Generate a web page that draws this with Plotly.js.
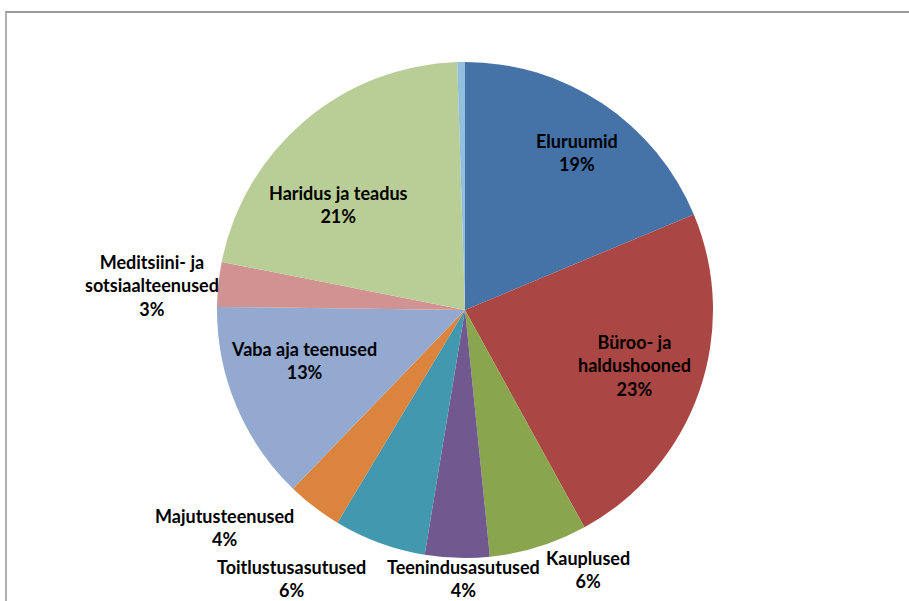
<!DOCTYPE html>
<html>
<head>
<meta charset="utf-8">
<script src="https://cdn.plot.ly/plotly-3.0.1.min.js"></script>
<style>
  html, body { margin: 0; padding: 0; background: #ffffff; }
  #chart { width: 909px; height: 601px; position: relative; }
  #frame { position: absolute; left: 5px; top: 11px; right: -10px; bottom: -10px;
           border-top: 2px solid #9a9a9a; border-left: 2px solid #b0b0b0; pointer-events: none; }
</style>
</head>
<body>
<div id="chart"></div>
<div id="frame"></div>
<script>
// Data
const categories = [
  "Eluruumid",
  "Büroo- ja<br>haldushooned",
  "Kauplused",
  "Teenindusasutused",
  "Toitlustusasutused",
  "Majutusteenused",
  "Vaba aja teenused",
  "Meditsiini- ja<br>sotsiaalteenused",
  "Haridus ja teadus",
  "Muu"
];
const values = [18.7, 23.3, 6.4, 4.2, 6.0, 3.6, 13.0, 2.9, 21.4, 0.5];
const showLabel = [true, true, true, true, true, true, true, true, true, false];

// Styles
const colors = ["#4572A7", "#AA4643", "#89A54E", "#71588F", "#4198AF",
                "#DB843D", "#93A9CF", "#D19392", "#B9CD96", "#92BFDD"];
// label centres in pixels (layout only)
const labelPos = [
  [577, 152], [634, 365], [588, 569], [463, 578], [291, 578],
  [224, 527], [304, 360], [152, 285], [338, 205], [0, 0]
];

const W = 909, H = 601;
const total = values.reduce((a, b) => a + b, 0);

const annotations = [];
categories.forEach((c, i) => {
  if (!showLabel[i]) return;
  const pct = Math.round(values[i] / total * 100);
  annotations.push({
    x: labelPos[i][0] / W, y: 1 - labelPos[i][1] / H,
    xref: "paper", yref: "paper",
    xanchor: "center", yanchor: "middle",
    text: "<b>" + c + "<br>" + pct + "%</b>",
    showarrow: false,
    align: "center",
    font: { family: "Lato, 'Open Sans', sans-serif", size: 18, color: "#000000" }
  });
});

const cx = 465, cy = 310, r = 248;
const trace = {
  type: "pie",
  labels: categories.map(s => s.replace("<br>", " ")),
  values: values,
  sort: false,
  direction: "clockwise",
  rotation: 0,
  textinfo: "none",
  hoverinfo: "label+percent",
  marker: { colors: colors, line: { width: 0 } },
  domain: { x: [(cx - r) / W, (cx + r) / W], y: [(H - cy - r) / H, (H - cy + r) / H] }
};

Plotly.newPlot("chart", [trace], {
  width: W, height: H,
  margin: { l: 0, r: 0, t: 0, b: 0 },
  paper_bgcolor: "#ffffff",
  showlegend: false,
  annotations: annotations
}, { displayModeBar: false, staticPlot: true });
</script>
</body>
</html>
